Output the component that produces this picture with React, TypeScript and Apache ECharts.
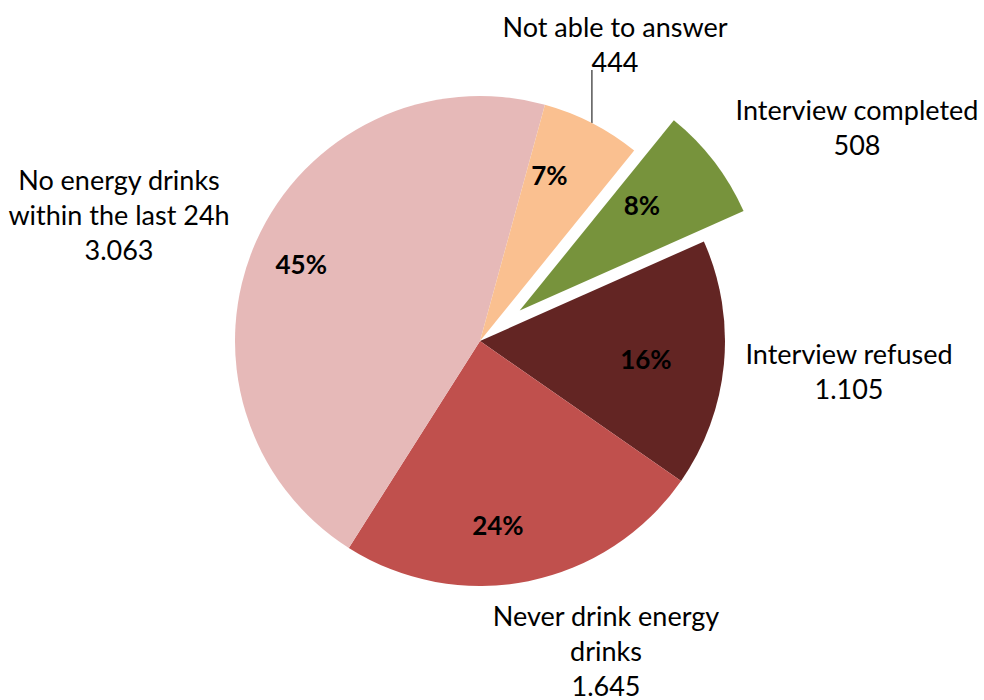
import React, { useEffect, useRef } from 'react';
import * as echarts from 'echarts';

// ---- data ----
const categories: string[] = [
  'Interview completed',
  'Interview refused',
  'Never drink energy\ndrinks',
  'No energy drinks\nwithin the last 24h',
  'Not able to answer',
];
const values: number[] = [508, 1105, 1645, 3063, 444];
const colors: string[] = ['#77933C', '#632523', '#C0504D', '#E6B9B8', '#FAC090'];
const explodedIndex = 0;
const leaderIndex = 4;

// ---- layout (label block centres, percentage label nudges) ----
const START_ANGLE = 51;
const SELECTED_OFFSET = 50;
const LABEL_CENTERS: number[][] = [
  [857, 127],
  [849, 371],
  [606, 650],
  [119, 214],
  [615, 44],
];
const PCT_SHIFT: number[][] = [
  [-26, 8],
  [-20, 0],
  [-19, 1],
  [-8, -1],
  [-16, 0],
];

const FONT = 'Lato, "Open Sans", "Noto Sans", sans-serif';

const fmt = (v: number) => String(v).replace(/\B(?=(\d{3})+(?!\d))/g, '.');

// offset vector the library applies to the exploded slice (and its label)
function explodeVector(): number[] {
  const total = values.reduce((a, b) => a + b, 0);
  let before = 0;
  for (let k = 0; k < explodedIndex; k++) before += values[k];
  const mid = START_ANGLE - ((before + values[explodedIndex] / 2) / total) * 360;
  const rad = (mid * Math.PI) / 180;
  return [SELECTED_OFFSET * Math.cos(rad), -SELECTED_OFFSET * Math.sin(rad)];
}

export default function App() {
  const ref = useRef<HTMLDivElement>(null);
  useEffect(() => {
    if (!ref.current) return;
    const chart = echarts.init(ref.current, null, { renderer: 'svg' });
    const ev = explodeVector();
    const mainData = values.map((v, i) => ({
      name: categories[i],
      value: v,
      selected: i === explodedIndex,
      itemStyle: { color: colors[i] },
      labelLine: { show: i === leaderIndex },
    }));
    const overlayData = values.map((v, i) => ({
      name: categories[i],
      value: v,
      selected: i === explodedIndex,
    }));
    const common = {
      type: 'pie',
      center: [480, 341],
      startAngle: START_ANGLE,
      clockwise: true,
      selectedMode: 'single',
      selectedOffset: SELECTED_OFFSET,
      avoidLabelOverlap: false,
      silent: true,
      emphasis: { disabled: true },
    };
    chart.setOption({
      animation: false,
      series: [
        {
          ...common,
          radius: 245,
          data: mainData,
          itemStyle: { borderWidth: 0 },
          label: {
            show: true,
            position: 'outside',
            formatter: (p: any) => `${p.name}\n${fmt(p.value)}`,
            fontFamily: FONT,
            fontSize: 27,
            lineHeight: 35,
            color: '#000',
          },
          labelLine: {
            show: false,
            length: 20,
            length2: 0,
            lineStyle: { color: '#000', width: 1 },
          },
          labelLayout: (p: any) => {
            const i = p.dataIndex;
            const r = p.labelRect;
            const c = LABEL_CENTERS[i];
            const ax =
              p.align === 'left' ? r.x : p.align === 'right' ? r.x + r.width : r.x + r.width / 2;
            const ay =
              p.verticalAlign === 'top'
                ? r.y
                : p.verticalAlign === 'bottom'
                ? r.y + r.height
                : r.y + r.height / 2;
            let dx = c[0] - ax;
            let dy = c[1] - ay;
            if (i === explodedIndex) {
              dx -= ev[0];
              dy -= ev[1];
            }
            const res: any = { dx, dy, align: 'center', verticalAlign: 'middle' };
            if (i === leaderIndex && p.labelLinePoints && p.labelLinePoints[0]) {
              const p0 = p.labelLinePoints[0];
              const top = c[1] + r.height / 2 - 9;
              res.labelLinePoints = [
                [p0[0], p0[1]],
                [p0[0], top],
              ];
            }
            return res;
          },
        },
        {
          ...common,
          radius: [122.5, 245],
          data: overlayData,
          itemStyle: { color: 'rgba(0,0,0,0)', borderWidth: 0 },
          label: {
            show: true,
            position: 'inside',
            formatter: (p: any) => `${Math.round(p.percent)}%`,
            fontFamily: FONT,
            fontSize: 26,
            fontWeight: 'bold',
            color: '#000',
          },
          labelLine: { show: false },
          labelLayout: (p: any) => ({
            dx: PCT_SHIFT[p.dataIndex][0],
            dy: PCT_SHIFT[p.dataIndex][1],
          }),
        },
      ],
    });
    return () => chart.dispose();
  }, []);
  return (
    <div
      ref={ref}
      style={{ position: 'fixed', left: 0, top: 0, width: 984, height: 700, background: '#fff' }}
    />
  );
}
